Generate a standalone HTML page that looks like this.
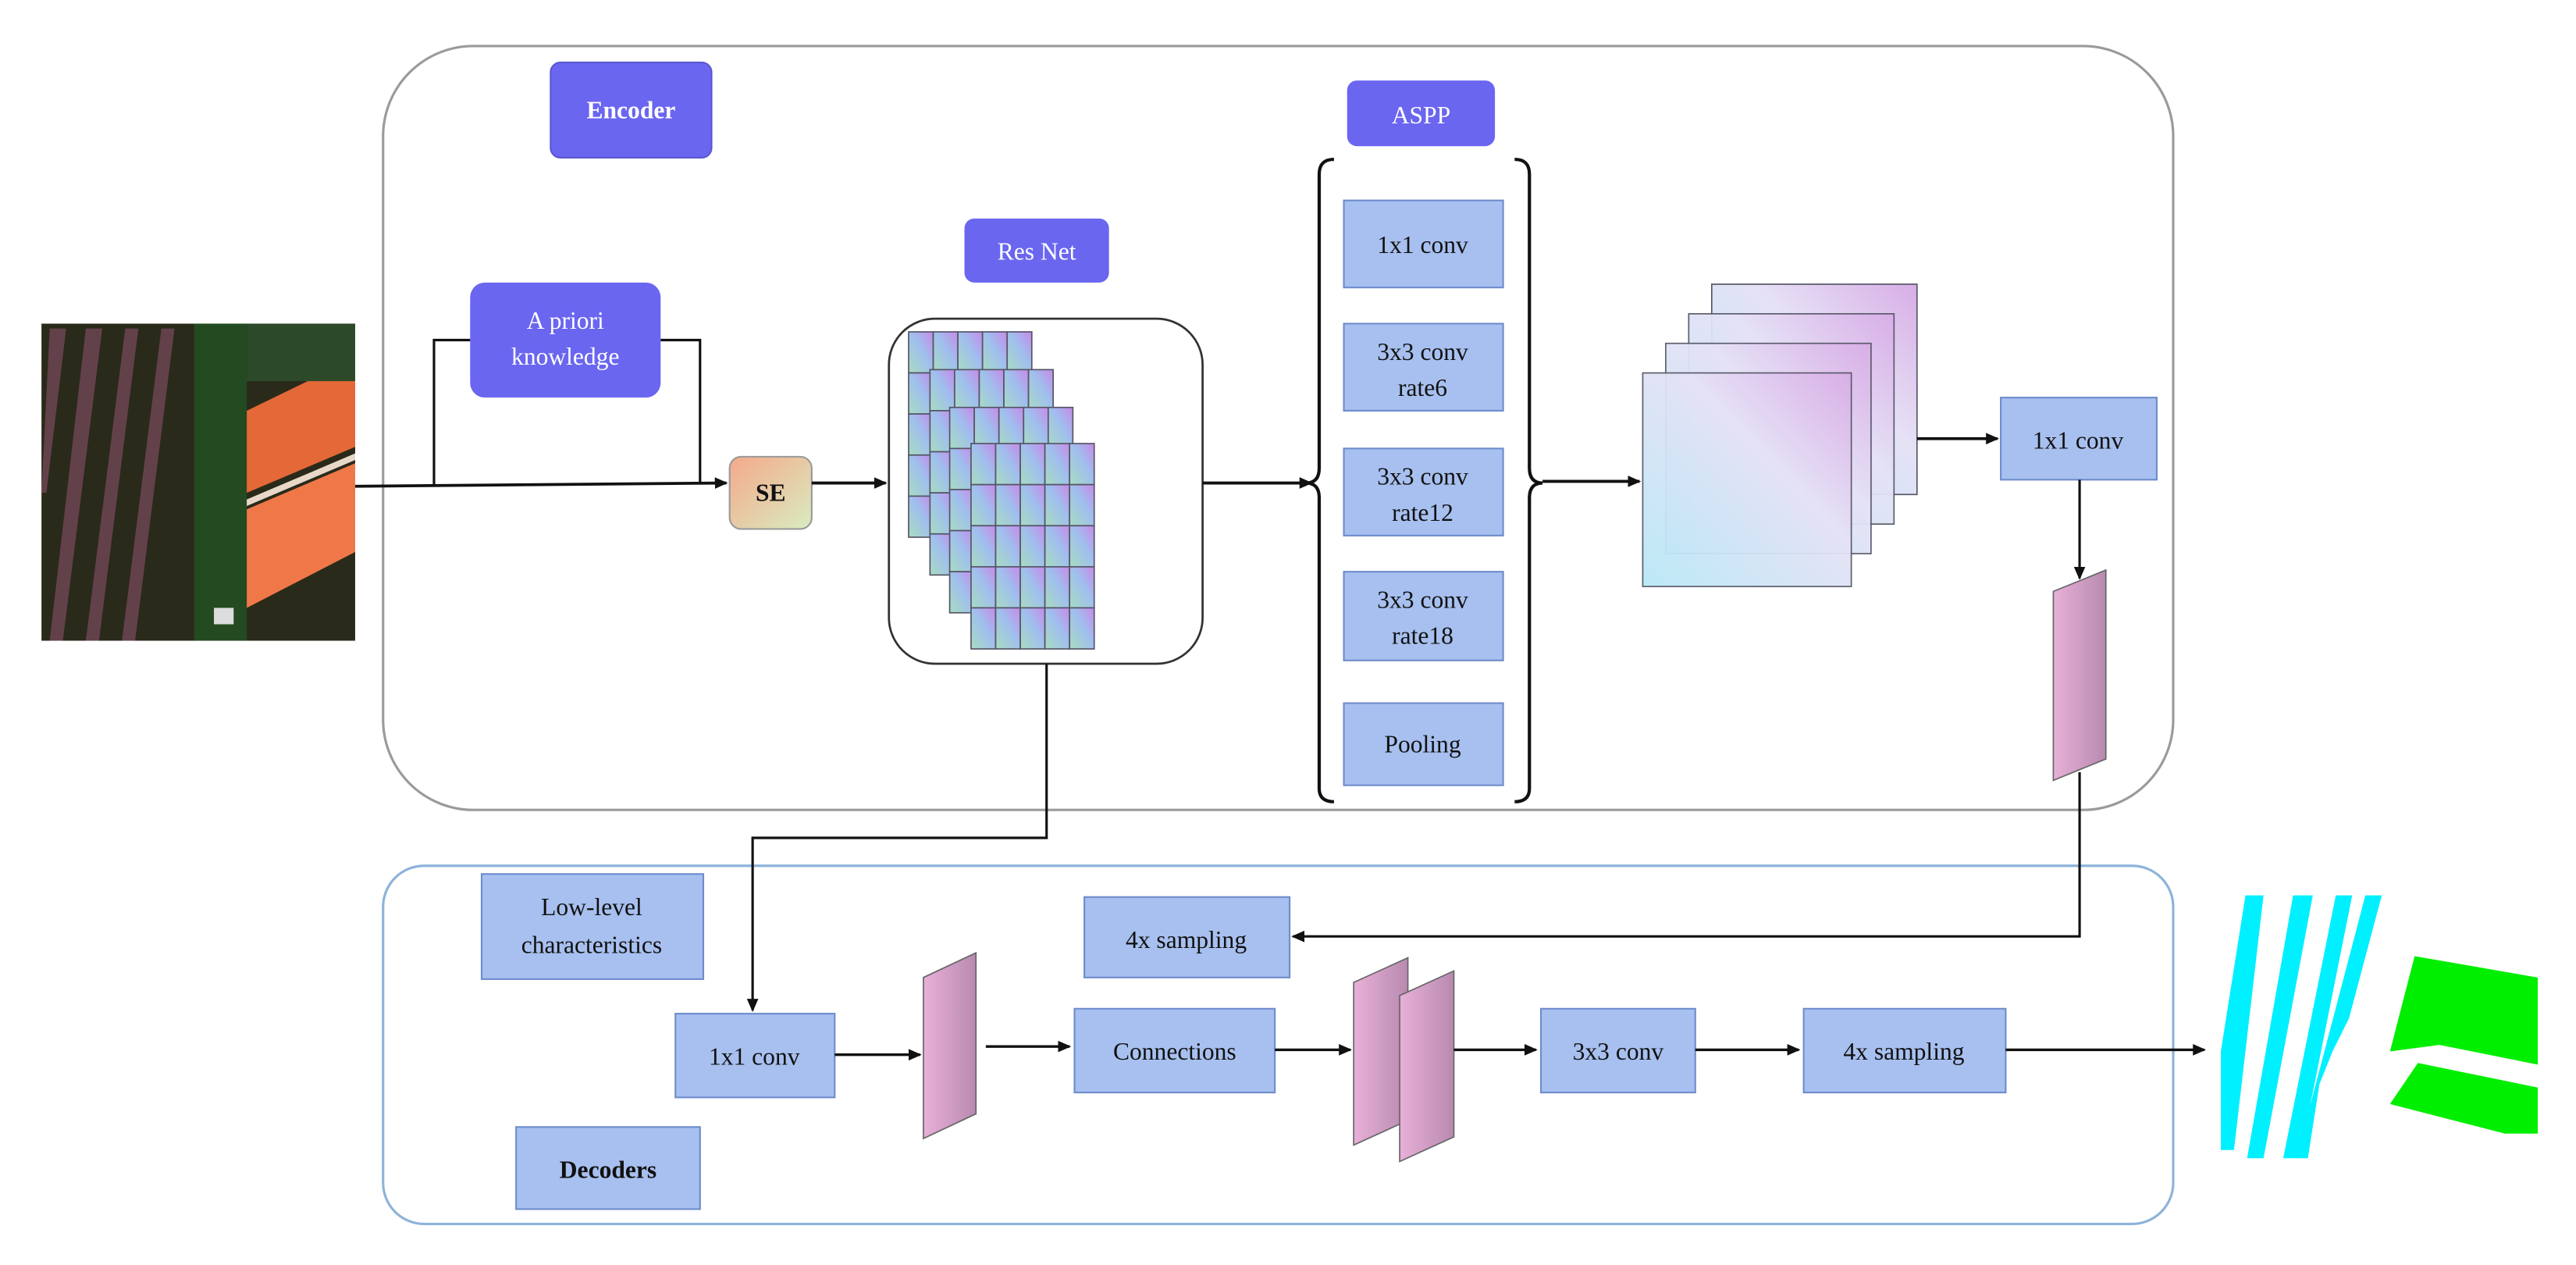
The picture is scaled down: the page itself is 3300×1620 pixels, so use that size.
<!DOCTYPE html>
<html><head><meta charset="utf-8"><style>
html,body{margin:0;padding:0;background:#fff;}
svg{display:block}
text{font-family:"Liberation Serif",serif;fill:#111;}
</style></head><body>
<svg width="3300" height="1620" viewBox="0 0 1568 770" xmlns="http://www.w3.org/2000/svg">
<defs>
<marker id="a" markerWidth="8" markerHeight="8" refX="7" refY="4" orient="auto" markerUnits="userSpaceOnUse"><path d="M0,0.5 L8,4 L0,7.5 Z" fill="#111"/></marker>
<linearGradient id="cell" x1="0" y1="1" x2="1" y2="0"><stop offset="0" stop-color="#a8dcc0"/><stop offset="0.55" stop-color="#a0bfee"/><stop offset="1" stop-color="#c68ae8"/></linearGradient>
<linearGradient id="se" x1="0" y1="0" x2="1" y2="1"><stop offset="0" stop-color="#f4a98a"/><stop offset="1" stop-color="#d9ecc0"/></linearGradient>
<linearGradient id="fm" x1="0" y1="1" x2="1" y2="0"><stop offset="0" stop-color="#b8e8f6"/><stop offset="0.6" stop-color="#e6e2f6"/><stop offset="1" stop-color="#d8aee6"/></linearGradient>
<linearGradient id="slab" x1="0" y1="0" x2="1" y2="0"><stop offset="0" stop-color="#e8b0d8"/><stop offset="1" stop-color="#b88ab0"/></linearGradient>
<g id="grid">
<rect x="0" y="0" width="15" height="25" fill="url(#cell)"/><rect x="15" y="0" width="15" height="25" fill="url(#cell)"/><rect x="30" y="0" width="15" height="25" fill="url(#cell)"/><rect x="45" y="0" width="15" height="25" fill="url(#cell)"/><rect x="60" y="0" width="15" height="25" fill="url(#cell)"/>
<rect x="0" y="25" width="15" height="25" fill="url(#cell)"/><rect x="15" y="25" width="15" height="25" fill="url(#cell)"/><rect x="30" y="25" width="15" height="25" fill="url(#cell)"/><rect x="45" y="25" width="15" height="25" fill="url(#cell)"/><rect x="60" y="25" width="15" height="25" fill="url(#cell)"/>
<rect x="0" y="50" width="15" height="25" fill="url(#cell)"/><rect x="15" y="50" width="15" height="25" fill="url(#cell)"/><rect x="30" y="50" width="15" height="25" fill="url(#cell)"/><rect x="45" y="50" width="15" height="25" fill="url(#cell)"/><rect x="60" y="50" width="15" height="25" fill="url(#cell)"/>
<rect x="0" y="75" width="15" height="25" fill="url(#cell)"/><rect x="15" y="75" width="15" height="25" fill="url(#cell)"/><rect x="30" y="75" width="15" height="25" fill="url(#cell)"/><rect x="45" y="75" width="15" height="25" fill="url(#cell)"/><rect x="60" y="75" width="15" height="25" fill="url(#cell)"/>
<rect x="0" y="100" width="15" height="25" fill="url(#cell)"/><rect x="15" y="100" width="15" height="25" fill="url(#cell)"/><rect x="30" y="100" width="15" height="25" fill="url(#cell)"/><rect x="45" y="100" width="15" height="25" fill="url(#cell)"/><rect x="60" y="100" width="15" height="25" fill="url(#cell)"/>
</g>
</defs>

<rect x="233" y="28" width="1090" height="465" rx="55" fill="none" stroke="#9a9a9a" stroke-width="1.5"/>
<rect x="233" y="527" width="1090" height="218" rx="25" fill="none" stroke="#8db3da" stroke-width="1.5"/>

<g>
<rect x="25" y="197" width="191" height="193" fill="#2a2a1a"/>
<g fill="#6a4450" opacity="0.9">
<polygon points="30,200 40,200 28,300 25,300"/>
<polygon points="52,200 62,200 38,390 30,390"/>
<polygon points="76,200 84,200 60,390 52,390"/>
<polygon points="98,200 106,200 82,390 74,390"/>
</g>
<rect x="118" y="197" width="32" height="193" fill="#244a22"/>
<polygon points="150,250 216,218 216,272 150,300" fill="#e46838"/>
<polygon points="150,310 216,282 216,336 150,370" fill="#f07848"/>
<polygon points="150,304 216,276 216,280 150,308" fill="#e8d8c8"/>
<rect x="150" y="197" width="66" height="35" fill="#2c4a2a"/>
<rect x="130" y="370" width="12" height="10" fill="#ddd"/>
</g>

<g fill="#00f0ff">
<polygon points="1367,545 1378,545 1360,700 1352,700 1352,640"/>
<polygon points="1396,545 1408,545 1378,705 1368,705"/>
<polygon points="1422,545 1432,545 1400,705 1390,705"/>
<polygon points="1440,545 1450,545 1430,620 1420,640 1412,660 1405,705 1398,705"/>
</g>
<polygon points="1470,582 1545,595 1545,648 1485,636 1455,640" fill="#00ee00"/>
<polygon points="1472,647 1545,662 1545,690 1525,690 1455,672" fill="#00ee00"/>

<rect x="335" y="38" width="98" height="58" rx="6" fill="#6a66f0" stroke="#5a58d0"/>
<text x="384" y="72" text-anchor="middle" font-size="15" font-weight="bold" style="fill:#fff">Encoder</text>

<rect x="286" y="172" width="116" height="70" rx="9" fill="#6a66f0"/>
<text x="344" y="200" text-anchor="middle" font-size="15" style="fill:#fff">A priori</text>
<text x="344" y="222" text-anchor="middle" font-size="15" style="fill:#fff">knowledge</text>

<line x1="216" y1="296" x2="442" y2="294" stroke="#111" stroke-width="1.8" marker-end="url(#a)"/>
<polyline points="264,295 264,207 286,207" fill="none" stroke="#111" stroke-width="1.5"/>
<polyline points="402,207 426,207 426,294" fill="none" stroke="#111" stroke-width="1.5"/>

<rect x="444" y="278" width="50" height="44" rx="7" fill="url(#se)" stroke="#999"/>
<text x="469" y="305" text-anchor="middle" font-size="15" font-weight="bold">SE</text>
<line x1="494" y1="294" x2="539" y2="294" stroke="#111" stroke-width="1.8" marker-end="url(#a)"/>

<rect x="587" y="133" width="88" height="39" rx="6" fill="#6a66f0"/>
<text x="631" y="158" text-anchor="middle" font-size="15" style="fill:#fff">Res Net</text>
<rect x="541" y="194" width="191" height="210" rx="28" fill="#fff" stroke="#333" stroke-width="1.3"/>
<g stroke="#556" stroke-width="0.8">
<use href="#grid" transform="translate(553,202)"/>
<use href="#grid" transform="translate(566,225)"/>
<use href="#grid" transform="translate(578,248)"/>
<use href="#grid" transform="translate(591,270)"/>
</g>

<line x1="732" y1="294" x2="798" y2="294" stroke="#111" stroke-width="1.8" marker-end="url(#a)"/>
<path d="M812,97 Q803,97 803,106 L803,285 Q803,294 795,294 Q803,294 803,303 L803,480 Q803,488 812,488" fill="none" stroke="#111" stroke-width="2"/>
<path d="M922,97 Q931,97 931,106 L931,285 Q931,294 939,294 Q931,294 931,303 L931,480 Q931,488 922,488" fill="none" stroke="#111" stroke-width="2"/>
<line x1="939" y1="293" x2="998" y2="293" stroke="#111" stroke-width="1.8" marker-end="url(#a)"/>

<rect x="820" y="49" width="90" height="40" rx="6" fill="#6a66f0"/>
<text x="865" y="75" text-anchor="middle" font-size="15" style="fill:#fff">ASPP</text>
<g fill="#a7c0ef" stroke="#6e8ccc" stroke-width="1">
<rect x="818" y="122" width="97" height="53"/>
<rect x="818" y="197" width="97" height="53"/>
<rect x="818" y="273" width="97" height="53"/>
<rect x="818" y="348" width="97" height="54"/>
<rect x="818" y="428" width="97" height="50"/>
</g>
<g font-size="15" text-anchor="middle">
<text x="866" y="154">1x1 conv</text>
<text x="866" y="219">3x3 conv</text><text x="866" y="241">rate6</text>
<text x="866" y="295">3x3 conv</text><text x="866" y="317">rate12</text>
<text x="866" y="370">3x3 conv</text><text x="866" y="392">rate18</text>
<text x="866" y="458">Pooling</text>
</g>

<g stroke="#556" stroke-width="0.8">
<rect x="1042" y="173" width="125" height="128" fill="url(#fm)"/>
<rect x="1028" y="191" width="125" height="128" fill="url(#fm)" opacity="0.95"/>
<rect x="1014" y="209" width="125" height="128" fill="url(#fm)" opacity="0.95"/>
<rect x="1000" y="227" width="127" height="130" fill="url(#fm)" opacity="0.95"/>
</g>
<line x1="1167" y1="267" x2="1216" y2="267" stroke="#111" stroke-width="1.8" marker-end="url(#a)"/>
<rect x="1218" y="242" width="95" height="50" fill="#a7c0ef" stroke="#6e8ccc"/>
<text x="1265" y="273" text-anchor="middle" font-size="15">1x1 conv</text>
<line x1="1266" y1="292" x2="1266" y2="352" stroke="#111" stroke-width="1.5" marker-end="url(#a)"/>

<polygon points="1250,360 1282,347 1282,462 1250,475" fill="url(#slab)" stroke="#666" stroke-width="0.8"/>
<polyline points="1266,470 1266,570 787,570" fill="none" stroke="#111" stroke-width="1.5" marker-end="url(#a)"/>

<polyline points="637,404 637,510 458,510 458,615" fill="none" stroke="#111" stroke-width="1.5" marker-end="url(#a)"/>

<g fill="#a7c0ef" stroke="#6e8ccc" stroke-width="1">
<rect x="293" y="532" width="135" height="64"/>
<rect x="660" y="546" width="125" height="49"/>
<rect x="411" y="617" width="97" height="51"/>
<rect x="654" y="614" width="122" height="51"/>
<rect x="938" y="614" width="94" height="51"/>
<rect x="1098" y="614" width="123" height="51"/>
<rect x="314" y="686" width="112" height="50"/>
</g>
<g font-size="15" text-anchor="middle">
<text x="360" y="557">Low-level</text><text x="360" y="580">characteristics</text>
<text x="722" y="577">4x sampling</text>
<text x="459" y="648">1x1 conv</text>
<text x="715" y="645">Connections</text>
<text x="985" y="645">3x3 conv</text>
<text x="1159" y="645">4x sampling</text>
<text x="370" y="717" font-weight="bold">Decoders</text>
</g>
<line x1="508" y1="642" x2="560" y2="642" stroke="#111" stroke-width="1.6" marker-end="url(#a)"/>
<polygon points="562,595 594,580 594,678 562,693" fill="url(#slab)" stroke="#666" stroke-width="0.8"/>
<line x1="600" y1="637" x2="651" y2="637" stroke="#111" stroke-width="1.6" marker-end="url(#a)"/>
<line x1="776" y1="639" x2="822" y2="639" stroke="#111" stroke-width="1.6" marker-end="url(#a)"/>
<polygon points="824,598 857,583 857,682 824,697" fill="url(#slab)" stroke="#666" stroke-width="0.8"/>
<polygon points="852,606 885,591 885,692 852,707" fill="url(#slab)" stroke="#666" stroke-width="0.8"/>
<line x1="885" y1="639" x2="935" y2="639" stroke="#111" stroke-width="1.6" marker-end="url(#a)"/>
<line x1="1032" y1="639" x2="1095" y2="639" stroke="#111" stroke-width="1.6" marker-end="url(#a)"/>
<line x1="1221" y1="639" x2="1342" y2="639" stroke="#111" stroke-width="1.6" marker-end="url(#a)"/>
</svg>
</body></html>
